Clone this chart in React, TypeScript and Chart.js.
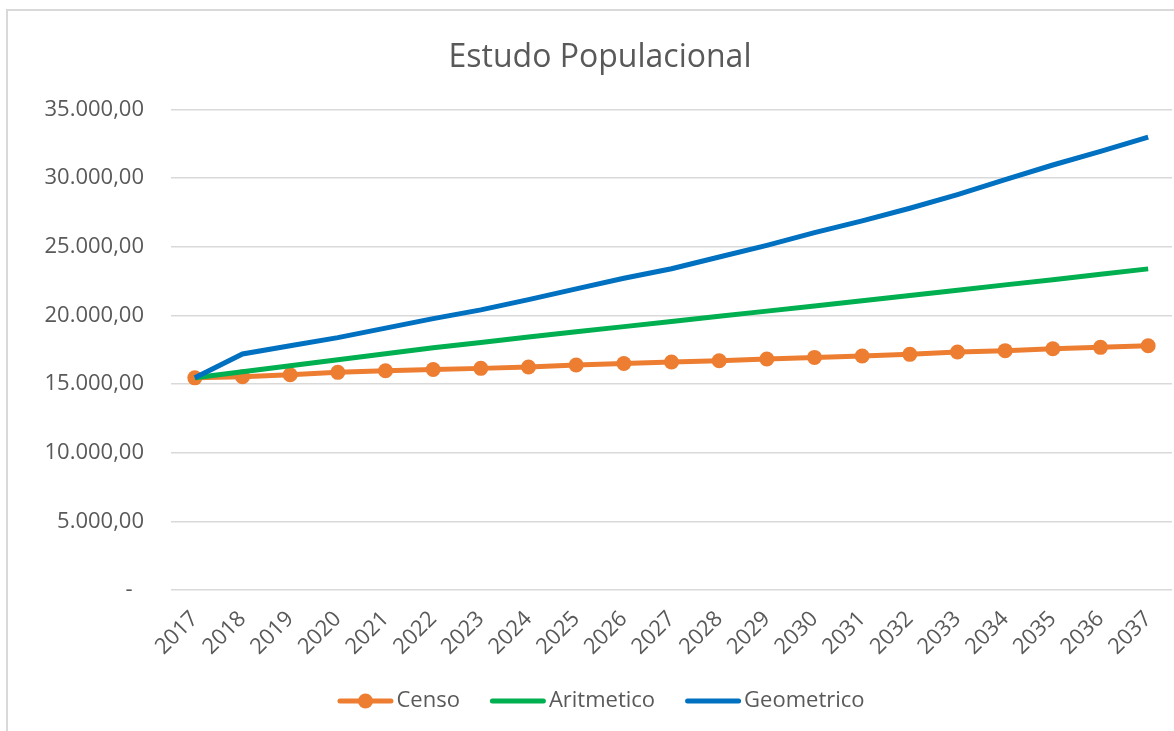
import React, { useEffect, useRef } from 'react';
import { Chart, registerables } from 'chart.js';

Chart.register(...registerables);

const years = ['2017', '2018', '2019', '2020', '2021', '2022', '2023', '2024', '2025', '2026', '2027', '2028', '2029', '2030', '2031', '2032', '2033', '2034', '2035', '2036', '2037'];
const censo = [15450, 15530, 15680, 15850, 15970, 16060, 16140, 16240, 16390, 16500, 16600, 16700, 16820, 16940, 17040, 17160, 17330, 17430, 17570, 17670, 17790];
const aritmetico = [15450, 15890, 16330, 16770, 17200, 17640, 18030, 18420, 18800, 19180, 19560, 19940, 20310, 20690, 21060, 21440, 21830, 22220, 22600, 22990, 23385];
const geometrico = [15450, 17190, 17790, 18380, 19070, 19760, 20400, 21150, 21930, 22700, 23400, 24250, 25100, 26020, 26880, 27800, 28800, 29880, 30950, 31950, 32980];
const seriesNames = ['Censo', 'Aritmetico', 'Geometrico'];
const seriesColors = ['#ED7D31', '#00B050', '#0070C0'];
const yTickValues = [0, 5000, 10000, 15000, 20000, 25000, 30000, 35000];
const yTickLabels = ['-  ', '5.000,00', '10.000,00', '15.000,00', '20.000,00', '25.000,00', '30.000,00', '35.000,00'];
const titleText = 'Estudo Populacional';

const FONT = "'Open Sans', sans-serif";
const TEXT = '#595959';
const GRID = '#d9d9d9';
const LABEL_SIZE = 22;
const LEGEND_BOX = 50;
const LINE_SAMPLE = 56;

const legendMarker = {
  id: 'legendMarker',
  afterDraw(chart: any) {
    const lg = chart.legend;
    if (!lg || !lg.legendHitBoxes || !lg.legendItems) return;
    const ctx = chart.ctx;
    lg.legendItems.forEach((it: any, i: number) => {
      const hb = lg.legendHitBoxes[i];
      const textX = hb.left + LEGEND_BOX + LABEL_SIZE / 2;
      const cy = hb.top + hb.height / 2;
      const color = seriesColors[it.datasetIndex];
      const x1 = textX - 3;
      const x0 = x1 - LINE_SAMPLE;
      ctx.save();
      ctx.strokeStyle = color;
      ctx.lineWidth = 5;
      ctx.lineCap = 'round';
      ctx.beginPath();
      ctx.moveTo(x0 + 2.5, cy);
      ctx.lineTo(x1 - 2.5, cy);
      ctx.stroke();
      if (it.datasetIndex === 0) {
        ctx.fillStyle = color;
        ctx.beginPath();
        ctx.arc((x0 + x1) / 2, cy, 7.5, 0, Math.PI * 2);
        ctx.fill();
      }
      ctx.restore();
    });
  },
};

export default function App() {
  const ref = useRef<HTMLCanvasElement | null>(null);

  useEffect(() => {
    if (!ref.current) return;
    const chart = new Chart(ref.current, {
      type: 'line',
      data: {
        labels: years,
        datasets: [
          {
            label: seriesNames[0],
            data: censo,
            borderColor: seriesColors[0],
            backgroundColor: seriesColors[0],
            borderWidth: 5,
            pointRadius: 7.5,
            pointBorderWidth: 0,
            pointBackgroundColor: seriesColors[0],
            tension: 0,
            order: 3,
          },
          {
            label: seriesNames[1],
            data: aritmetico,
            borderColor: seriesColors[1],
            backgroundColor: seriesColors[1],
            borderWidth: 5,
            pointRadius: 0,
            tension: 0,
            order: 2,
          },
          {
            label: seriesNames[2],
            data: geometrico,
            borderColor: seriesColors[2],
            backgroundColor: seriesColors[2],
            borderWidth: 5,
            pointRadius: 0,
            tension: 0,
            order: 1,
          },
        ],
      },
      options: {
        responsive: false,
        animation: false,
        layout: { autoPadding: false, padding: { left: 28, right: 2, top: 0, bottom: 9 } },
        plugins: {
          title: {
            display: true,
            text: titleText,
            color: TEXT,
            font: { family: FONT, size: 32, weight: 'normal' },
            padding: { top: 39, bottom: 32 },
          },
          legend: {
            position: 'bottom',
            labels: {
              color: TEXT,
              font: { family: FONT, size: LABEL_SIZE },
              boxWidth: LEGEND_BOX,
              boxHeight: 5,
              padding: 28,
              sort: (a: any, b: any) => a.datasetIndex - b.datasetIndex,
              generateLabels: (c: any) =>
                (Chart.defaults.plugins.legend.labels as any)
                  .generateLabels(c)
                  .map((l: any) => ({ ...l, lineWidth: 0, fillStyle: 'rgba(0,0,0,0)', strokeStyle: 'rgba(0,0,0,0)' })),
            },
          },
          tooltip: { enabled: false },
        },
        scales: {
          x: {
            offset: true,
            grid: { display: false, drawTicks: false },
            border: { display: false },
            ticks: {
              color: TEXT,
              font: { family: FONT, size: LABEL_SIZE },
              minRotation: 45,
              maxRotation: 45,
              autoSkip: false,
              padding: 16,
            },
            afterFit: (s: any) => {
              s.height = 72;
              s.paddingRight = 0;
              s.paddingLeft = 0;
            },
          },
          y: {
            min: 0,
            max: 35000,
            ticks: {
              stepSize: 5000,
              color: TEXT,
              font: { family: FONT, size: LABEL_SIZE },
              padding: 27,
              callback: (v: any) => {
                const i = yTickValues.indexOf(Number(v));
                return i >= 0 ? yTickLabels[i] : '';
              },
            },
            grid: { color: GRID, lineWidth: 1.5, drawTicks: false },
            border: { display: false },
            afterFit: (s: any) => {
              s.width = 143;
            },
          },
        },
      },
      plugins: [legendMarker],
    });
    return () => chart.destroy();
  }, []);

  return (
    <div style={{ position: 'fixed', left: 0, top: 0, width: 1174, height: 731, background: '#fff', overflow: 'hidden' }}>
      <canvas ref={ref} width={1174} height={731} style={{ position: 'absolute', left: 0, top: 0, width: 1174, height: 731 }} />
      <div
        style={{
          position: 'absolute',
          left: 6,
          top: 9,
          width: 1300,
          height: 900,
          borderLeft: '2px solid #d9d9d9',
          borderTop: '2px solid #d9d9d9',
          pointerEvents: 'none',
        }}
      />
    </div>
  );
}
